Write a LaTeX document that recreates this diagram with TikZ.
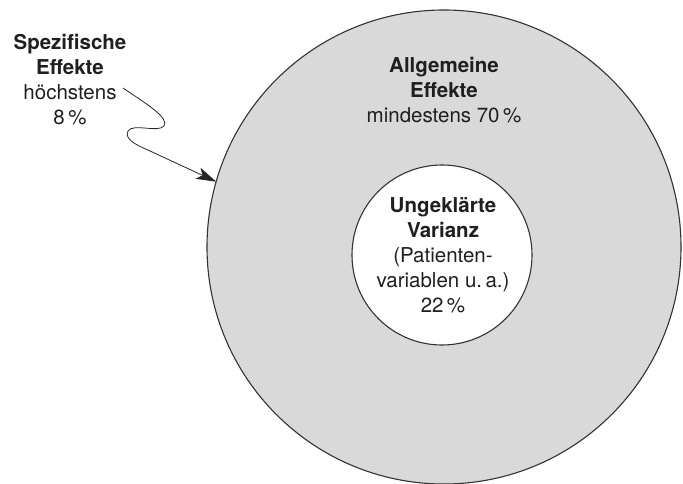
\documentclass[tikz,border=0pt]{standalone}
\usepackage{fontspec}
\setmainfont{TeX Gyre Heros}
\usetikzlibrary{arrows.meta}
\definecolor{ringgray}{HTML}{D9D9D9}
\definecolor{edgegray}{HTML}{333333}
\begin{document}
\begin{tikzpicture}[x=1pt,y=-1pt,
  lbl/.style={align=center,font=\fontsize{20.5}{25}\selectfont,text=black!88,inner sep=0pt},
  disc/.style={circle,draw=edgegray,line width=1.1pt,inner sep=0pt,outer sep=0pt},
  wiggle/.style={draw=black!85,line width=0.8pt,-{Stealth[length=20pt,width=12pt,inset=5pt]}}]
\useasboundingbox (0,0) rectangle (683,484);
\node[disc,fill=ringgray,minimum size=474pt] (outer) at (444,247) {};
\node[disc,fill=white,minimum size=180pt] (inner) at (442,255) {};
\node[lbl] (allg) at (444,90) {\textbf{Allgemeine}\\\textbf{Effekte}\\mindestens 70\,\%};
\node[lbl] (unge) at (443,255) {\textbf{Ungeklärte}\\\textbf{Varianz}\\(Patienten-\\variablen u.\,a.)\\22\,\%};
\node[lbl] (spez) at (70,80) {\textbf{Spezifische}\\\textbf{Effekte}\\höchstens\\8\,\%};
\coordinate (s) at (123,88);
\draw[wiggle] (s) .. controls (145,103) and (170,118) .. (164,126)
  .. controls (158,133) and (133,123) .. (128,131)
  .. controls (124,139) and (136,145) .. (150,151) -- (outer.164.4);
\end{tikzpicture}
\end{document}
